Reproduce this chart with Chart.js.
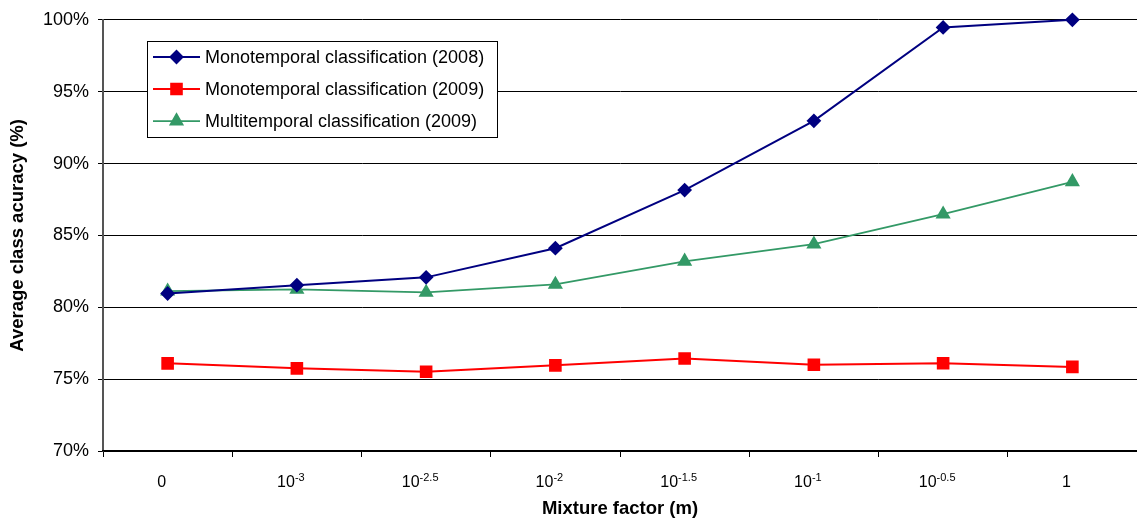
<!DOCTYPE html>
<html><head><meta charset="utf-8">
<script src="https://cdn.jsdelivr.net/npm/chart.js@4.4.1/dist/chart.umd.min.js"></script>
<style>html,body{margin:0;padding:0;background:#fff;overflow:hidden}canvas{display:block}</style>
</head><body><canvas id="c" width="1137" height="525" style="width:1137px;height:525px"></canvas>
<script>
// ---- data ----
const categories = ["0", "10^-3", "10^-2.5", "10^-2", "10^-1.5", "10^-1", "10^-0.5", "1"];
const mono2008 = [80.96, 81.54, 82.08, 84.11, 88.15, 92.97, 99.47, 100.0];
const mono2009 = [76.10, 75.75, 75.51, 75.96, 76.44, 76.00, 76.11, 75.85];
const multi2009 = [81.12, 81.24, 81.03, 81.59, 83.20, 84.39, 86.48, 88.73];
const seriesNames = ["Monotemporal classification (2008)", "Monotemporal classification (2009)", "Multitemporal classification (2009)"];
const yMin = 70, yMax = 100, yStep = 5;
const yTitle = "Average class acuracy (%)";
const xTitle = "Mixture factor (m)";

const FONT = "'Liberation Sans', Arial, sans-serif";

const xLabelPlugin = {
  id: 'xLabels',
  afterDraw(chart) {
    const ctx = chart.ctx, sc = chart.scales.x;
    ctx.save();
    ctx.fillStyle = '#000';
    ctx.textBaseline = 'alphabetic';
    categories.forEach((lab, i) => {
      const parts = lab.split('^');
      const cx = sc.getPixelForValue(i) - 6;
      ctx.font = "16px " + FONT;
      const wb = ctx.measureText(parts[0]).width;
      let we = 0;
      if (parts[1]) { ctx.font = "11px " + FONT; we = ctx.measureText(parts[1]).width; }
      const x0 = cx - (wb + we) / 2;
      const yb = 487;
      ctx.font = "16px " + FONT;
      ctx.textAlign = 'left';
      ctx.fillText(parts[0], x0, yb);
      if (parts[1]) { ctx.font = "11px " + FONT; ctx.fillText(parts[1], x0 + wb, yb - 6); }
    });
    ctx.restore();
  }
};

const legendPlugin = {
  id: 'boxLegend',
  afterDraw(chart) {
    const ctx = chart.ctx;
    const bx = 147, by = 41, bw = 350, bh = 96;
    ctx.save();
    ctx.fillStyle = '#fff';
    ctx.fillRect(bx, by, bw, bh);
    ctx.strokeStyle = '#000';
    ctx.lineWidth = 1;
    ctx.strokeRect(bx + 0.5, by + 0.5, bw, bh);
    chart.data.datasets.forEach((ds, i) => {
      const y = 57 + i * 32;
      ctx.strokeStyle = ds.borderColor;
      ctx.lineWidth = ds.borderWidth;
      ctx.beginPath(); ctx.moveTo(153, y); ctx.lineTo(200, y); ctx.stroke();
      ctx.fillStyle = ds.pointBackgroundColor;
      ctx.strokeStyle = ds.pointBorderColor;
      Chart.helpers.drawPoint(ctx, {pointStyle: ds.pointStyle, radius: ds.pointRadius, rotation: 0, borderWidth: 1}, 176.5, y);
      ctx.fillStyle = '#000';
      ctx.font = "18px " + FONT;
      ctx.textAlign = 'left';
      ctx.textBaseline = 'middle';
      ctx.fillText(ds.label, 205, y + 1);
    });
    ctx.restore();
  }
};

new Chart(document.getElementById('c'), {
  type: 'line',
  data: {
    labels: categories,
    datasets: [
      {label: seriesNames[0], data: mono2008, borderColor: '#000080', backgroundColor: '#000080', pointBackgroundColor: '#000080', pointBorderColor: '#000080', borderWidth: 2, pointStyle: 'rectRot', pointRadius: 6, pointHoverRadius: 6, clip: false, tension: 0},
      {label: seriesNames[1], data: mono2009, borderColor: '#FF0000', backgroundColor: '#FF0000', pointBackgroundColor: '#FF0000', pointBorderColor: '#FF0000', borderWidth: 2, pointStyle: 'rect', pointRadius: 7.5, pointHoverRadius: 7.5, clip: false, tension: 0},
      {label: seriesNames[2], data: multi2009, borderColor: '#339966', backgroundColor: '#339966', pointBackgroundColor: '#339966', pointBorderColor: '#339966', borderWidth: 1.75, pointStyle: 'triangle', pointRadius: 7, pointHoverRadius: 7, clip: false, tension: 0}
    ]
  },
  options: {
    responsive: false, animation: false, devicePixelRatio: 1,
    layout: {autoPadding: false, padding: {top: 19, right: 0, left: 0, bottom: 0}},
    plugins: {legend: {display: false}, tooltip: {enabled: false}},
    scales: {
      y: {
        min: yMin, max: yMax,
        ticks: {stepSize: yStep, callback: v => v + '%', color: '#000', font: {family: FONT, size: 18}, padding: 9},
        grid: {color: '#000', lineWidth: 1, tickLength: 5, tickColor: '#000'},
        border: {color: '#555', width: 2},
        title: {display: true, text: yTitle, color: '#000', font: {family: FONT, size: 18.5, weight: 'bold'}, padding: {top: 7, bottom: 0}},
        afterFit: s => { s.width = 103; }
      },
      x: {
        offset: true,
        ticks: {callback: () => '', autoSkip: false, padding: 0},
        grid: {offset: true, drawOnChartArea: false, tickLength: 6, color: '#000', tickColor: '#000'},
        border: {color: '#000', width: 1.5},
        title: {display: true, text: xTitle, color: '#000', font: {family: FONT, size: 18.5, weight: 'bold'}, padding: {top: 0, bottom: 5}},
        afterFit: s => { s.height = 74; }
      }
    }
  },
  plugins: [xLabelPlugin, legendPlugin]
});
</script>
</body></html>
